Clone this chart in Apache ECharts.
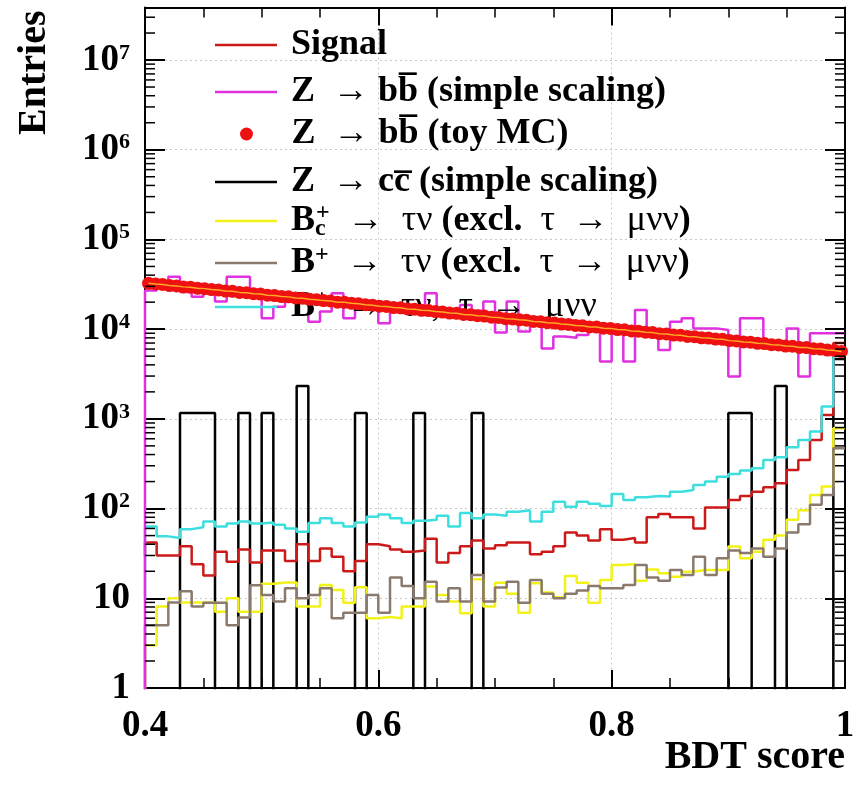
<!DOCTYPE html>
<html><head><meta charset="utf-8">
<script src="https://cdn.jsdelivr.net/npm/echarts@6/dist/echarts.min.js"></script>
<style>html,body{margin:0;padding:0;background:#fff}#c{width:856px;height:785px}</style>
</head><body><div id="c"></div>
<script>
// ---------- data ----------
const binLow = 0.4, binWidth = 0.01;           // 60 bins from 0.4 to 1.0
const signal = [42,30,30,38,24,18,33,25.6,35,25,34,34,26,40,26,36,29,20,26,40,38,35,33,34,46,25,32,38,44,36,
                39,42,42,31,33,38,54,50,44,59,45,47,42,80,87,80,80,60,103,103,125,138,154,173,191,269,348,582,1107,7000];
const signalBefore = 30;
const zbbSimple = [27000,30500,38500,26000,23000,27000,20300,38500,38500,24000,13200,17800,24000,21000,12100,15700,25100,13200,18000,17500,11600,16500,16000,15500,25100,15500,15000,18600,16000,20300,
                   9200,20300,9400,13200,6100,8300,8000,8600,10000,4350,9500,4350,16400,9800,5870,12100,13200,10200,10200,9800,2960,13200,13200,7000,7000,10200,2960,9000,9000,9000];
const zbbSimpleBefore = 0;
const zccSimple = [0,0,0,1160,1160,1160,0,0,1160,0,1160,0,0,2320,0,0,0,0,1160,0,0,0,0,1160,0,0,0,0,1160,0,
                   0,0,0,0,0,0,0,0,0,0,0,0,0,0,0,0,0,0,0,0,1160,1160,0,0,2320,0,0,0,0,4640];
const zccSimpleBefore = 0;
const bcTauNu = [3.0,8.1,10,9,9,9,7.1,10,7.1,7.1,14.5,15,15,8.1,8.1,14.1,12.4,8.9,13.3,6.0,6.2,6.0,8.1,8.1,13.5,10.9,9.2,6.8,16.3,8.1,
                 14.9,11.2,6.9,14.7,11.6,10.3,17.7,14.9,8.9,16,23.5,24.1,15.7,21,19,17.4,19.8,20.7,20.7,20.7,37.7,27.9,33,45,50,75,96,142,176,786];
const bcTauNuBefore = 0;
const buTauNu = [5.0,5.0,9.0,12,8.1,8.9,8.9,5.0,6.1,14,10.9,9.2,12.9,10,10.9,12.9,6.0,6.9,6.9,10.9,6.9,17.1,13.7,10,15.3,9.2,12.9,9.2,18.2,9.2,
                 13.2,15.3,8.9,16,11.2,10,11.2,12.2,13.7,12.9,12.9,14.1,23.5,17.1,15.7,20.7,18.2,29,18.2,28,34,32,36,29,36,54,67,110,142,470];
const buTauNuBefore = 0;
const buTauMu = [63,49,47,59,62,72,63,68,72,68,70,66,60,55,69,78,69,63,70,81,86,78,69,73,75,83,63,89,78,86,
                 83,92,96,72,92,119,105,119,113,107,145,125,134,138,136,154,161,183,200,227,243,265,281,348,373,482,582,721,1370,5500];
const buTauMuBefore = 10;
const toyLow = 0.4, toyWidth = 0.006;          // 100 bins from 0.4 to 1.0
const zbbToy = [32400,31900,31500,30600,30300,29600,29300,28500,28300,27600,
                27300,26600,26400,25700,25500,24800,24600,23900,23700,23100,
                22900,22300,22100,21500,21300,20800,20600,20000,19900,19400,
                19200,18700,18500,18000,17900,17400,17300,16800,16700,16200,
                16100,15700,15500,15100,15000,14600,14500,14100,14000,13600,
                13500,13100,13000,12700,12600,12200,12100,11800,11700,11400,
                11300,11000,10900,10600,10550,10250,10200,9900,9850,9550,
                9500,9250,9150,8900,8850,8600,8550,8300,8250,8000,
                7950,7750,7700,7450,7400,7200,7150,6950,6900,6700,
                6680,6480,6450,6250,6230,6050,6000,5850,5780,5650];
const xMin = 0.4, xMax = 1.0, xInterval = 0.2;
const yMin = 1, yMax = 3.85e7;

const names = {
  sig: 'Signal',
  zbb: 'Z → bb̄ (simple scaling)',
  toy: 'Z → bb̄ (toy MC)',
  zcc: 'Z → cc̄ (simple scaling)',
  bc: 'Bc+ → τν (excl. τ → μνν)',
  bu: 'B+ → τν (excl. τ → μνν)',
  bmu: 'B+ → τν, τ → μνν'
};
const legendText = {
  [names.sig]: ' Signal',
  [names.zbb]: ' Z  {g|→} bb\u0305 (simple scaling)',
  [names.toy]: ' Z  {g|→} bb\u0305 (toy MC)',
  [names.zcc]: ' Z  {g|→} cc\u0305 (simple scaling)',
  [names.bc]: ' B{sub|c}{sup|+}{g|  →  τν} (excl.  {g|τ  →  μνν})',
  [names.bu]: ' B{sup|+}{g|  →  τν} (excl.  {g|τ  →  μνν})',
  [names.bmu]: ' B{sup|+}{g|  →  τν,  τ  →  μνν}'
};

// ---------- helpers ----------
const FLOOR = 0.01; // empty bins drawn down to the frame bottom (clipped)
function histLine(values, before) {
  const pts = [[binLow, before > 0 ? before : FLOOR]];
  values.forEach((v, i) => pts.push([+(binLow + binWidth * (i + 1)).toFixed(4), v > 0 ? v : FLOOR]));
  return pts;
}
const toyPoints = zbbToy.map((v, i) => [+(toyLow + toyWidth * (i + 0.5)).toFixed(4), v]);
const yMinorTicks = [];
for (let e = 0; e <= 7; e++) for (let m = 2; m <= 9; m++) { const v = m * Math.pow(10, e); if (v < yMax) yMinorTicks.push(v); }

const FONT = 'Liberation Serif';
function histSeries(name, values, before, color, z) {
  return { type: 'line', name, data: histLine(values, before), step: 'start', symbol: 'none', showSymbol: false,
    color, itemStyle: { color }, lineStyle: { color, width: 2.5 }, clip: true, z: z || 2, animation: false, silent: true };
}
const richLegend = {
  g: { fontFamily: FONT, fontWeight: 'normal', fontSize: 36, color: '#000', lineHeight: 40 },
  sup: { fontFamily: FONT, fontWeight: 'bold', fontSize: 24, color: '#000', verticalAlign: 'top', lineHeight: 22 },
  sub: { fontFamily: FONT, fontWeight: 'bold', fontSize: 24, color: '#000', verticalAlign: 'bottom', lineHeight: 22, width: 1 }
};
const legendRows = [
  { name: names.sig, c: 45 }, { name: names.zbb, c: 92 }, { name: names.toy, c: 134, icon: 'circle' },
  { name: names.zcc, c: 182 }, { name: names.bc, c: 221 }, { name: names.bu, c: 263 }, { name: names.bmu, c: 307 }
];

const chart = echarts.init(document.getElementById('c'), null, { renderer: 'canvas' });
const yLabelFmt = v => {
  const l = Math.log10(v), e = Math.round(l);
  if (Math.abs(l - e) > 1e-6) return '';
  if (e === 0) return '1';
  if (e === 1) return '10';
  return '10{sup|' + e + '}';
};
const axisFont = { fontFamily: FONT, fontWeight: 'bold', color: '#000' };
chart.setOption({
  animation: false,
  backgroundColor: '#fff',
  grid: { left: 145, right: 11, top: 7.5, bottom: 97, containLabel: false, outerBoundsMode: 'none' },
  xAxis: [
    { type: 'value', min: xMin, max: xMax, interval: xInterval, position: 'bottom',
      name: 'BDT score', nameLocation: 'end', nameGap: 0, nameMoveOverlap: false,
      nameTextStyle: Object.assign({ fontSize: 40, align: 'right', verticalAlign: 'top', padding: [50, 0, 0, 0] }, axisFont),
      axisLine: { show: true, onZero: false, lineStyle: { color: '#000', width: 2 } },
      axisTick: { show: true, inside: true, length: 18, lineStyle: { color: '#000', width: 2 } },
      minorTick: { show: true, splitNumber: 4, length: 10, lineStyle: { color: '#000', width: 1.5 } },
      axisLabel: Object.assign({ fontSize: 37, margin: 20, showMinLabel: true, showMaxLabel: true }, axisFont),
      splitLine: { show: true, lineStyle: { color: '#c8c8c8', width: 1, type: [2, 3] } } },
    { type: 'value', min: xMin, max: xMax, interval: xInterval, position: 'top',
      axisLine: { show: true, onZero: false, lineStyle: { color: '#000', width: 2 } },
      axisTick: { show: true, inside: true, length: 18, lineStyle: { color: '#000', width: 2 } },
      minorTick: { show: true, splitNumber: 4, length: 10, lineStyle: { color: '#000', width: 1.5 } },
      axisLabel: { show: false }, splitLine: { show: false } }
  ],
  yAxis: [
    { type: 'log', logBase: 10, min: yMin, max: yMax, position: 'left',
      name: 'Entries', nameLocation: 'end', nameRotate: 90, nameGap: -3, nameMoveOverlap: false,
      nameTextStyle: Object.assign({ fontSize: 40, align: 'right', verticalAlign: 'bottom', padding: [0, 0, 90, 0] }, axisFont),
      axisLine: { show: true, onZero: false, lineStyle: { color: '#000', width: 2 } },
      axisTick: { show: true, inside: true, length: 20, lineStyle: { color: '#000', width: 2 } },
      axisLabel: Object.assign({ fontSize: 37, margin: 15, showMaxLabel: false, formatter: yLabelFmt, lineHeight: 36,
        rich: { sup: { fontFamily: FONT, fontWeight: 'bold', fontSize: 22, color: '#000', verticalAlign: 'top', lineHeight: 22 } } }, axisFont),
      splitLine: { show: true, lineStyle: { color: '#c8c8c8', width: 1, type: [2, 3] } } },
    { type: 'log', logBase: 10, min: yMin, max: yMax, position: 'right',
      axisLine: { show: true, onZero: false, lineStyle: { color: '#000', width: 2 } },
      axisTick: { show: true, inside: true, length: 20, lineStyle: { color: '#000', width: 2 } },
      axisLabel: { show: false }, splitLine: { show: false } }
  ],
  legend: legendRows.map(r => ({
    data: [{ name: r.name, icon: r.icon || 'rect' }],
    left: r.icon ? 240 : 215, top: r.c - 20, orient: 'vertical', padding: 0, itemGap: 0, selectedMode: false,
    itemWidth: 62, itemHeight: r.icon ? 13 : 2.5,
    formatter: n => legendText[n],
    textStyle: { fontFamily: FONT, fontWeight: 'bold', fontSize: 36, color: '#000', lineHeight: 40, rich: richLegend }
  })),
  series: [
    histSeries(names.zcc, zccSimple, zccSimpleBefore, '#000000', 2),
    histSeries(names.sig, signal, signalBefore, '#cc1a1a', 3),
    histSeries(names.bc, bcTauNu, bcTauNuBefore, '#f2f21a', 3),
    histSeries(names.bu, buTauNu, buTauNuBefore, '#8a7a6e', 3),
    histSeries(names.bmu, buTauMu, buTauMuBefore, '#3ddede', 3),
    histSeries(names.zbb, zbbSimple, zbbSimpleBefore, '#e030e0', 3),
    { type: 'scatter', name: names.toy, data: toyPoints, symbol: 'circle', symbolSize: 13,
      itemStyle: { color: '#ee1111', opacity: 1 }, z: 4, animation: false, silent: true },
    { type: 'line', name: 'toy MC line', data: toyPoints, symbol: 'none', showSymbol: false,
      lineStyle: { color: '#ffaa22', width: 1.5 }, z: 5, animation: false, silent: true },
    { type: 'custom', name: 'y minor ticks', data: yMinorTicks.map(v => [xMin, v]), encode: { x: 0, y: 1 }, z: 6, silent: true,
      clip: false, animation: false,
      renderItem: (params, api) => {
        const v = api.value(1);
        const pl = api.coord([xMin, v]), pr = api.coord([xMax, v]);
        return { type: 'group', children: [
          { type: 'line', shape: { x1: pl[0], y1: pl[1], x2: pl[0] + 10, y2: pl[1] }, style: { stroke: '#000', lineWidth: 1.5 } },
          { type: 'line', shape: { x1: pr[0], y1: pr[1], x2: pr[0] - 10, y2: pr[1] }, style: { stroke: '#000', lineWidth: 1.5 } }
        ] };
      } }
  ]
});
</script></body></html>
